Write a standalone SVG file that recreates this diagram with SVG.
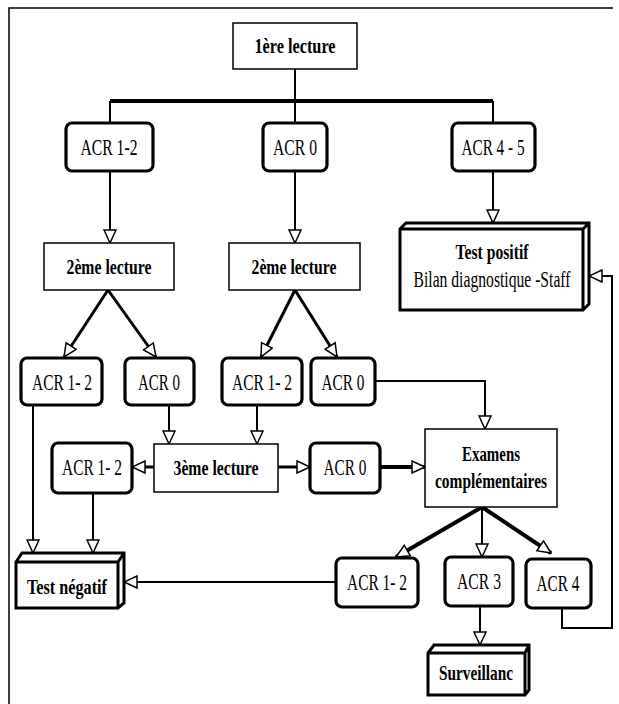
<svg xmlns="http://www.w3.org/2000/svg" width="619" height="704" viewBox="0 0 619 704">
<style>
.frame{fill:none;stroke:#000;stroke-width:1.5}
.box{fill:#fff;stroke:#000;stroke-width:1.5}
.rbox{fill:#fff;stroke:#000;stroke-width:3.2}
.b3d{fill:#fff;stroke:#000;stroke-width:3;stroke-linejoin:miter}
.c{fill:none;stroke:#000;stroke-width:2}
.c3{fill:none;stroke:#000;stroke-width:3}
.c4{fill:none;stroke:#000;stroke-width:4}
text{font-family:"Liberation Serif","Times New Roman",serif;font-size:23px;text-anchor:middle;fill:#000}
.bold{font-weight:bold;font-size:22px}
</style>
<defs>
<marker id="ah" markerUnits="userSpaceOnUse" markerWidth="16" markerHeight="14" viewBox="-1 -1 15 14" refX="13" refY="6" orient="auto">
<path d="M0,0 L13,6 L0,12 Z" fill="#fff" stroke="#000" stroke-width="1.5"/>
</marker>
</defs>
<path class="frame" d="M9,704 V8 H613"/>
<g id="connectors">
<path class="c" d="M295,69 V100"/>
<path class="c4" d="M110,101 H493"/>
<path class="c" d="M110,101 V123 M295,101 V123 M493,101 V123"/>
<path class="c" d="M110,171 V243" marker-end="url(#ah)"/>
<path class="c" d="M295,171 V243" marker-end="url(#ah)"/>
<path class="c" d="M493,171 V223" marker-end="url(#ah)"/>
<path class="c3" d="M108,290 L64,357" marker-end="url(#ah)"/>
<path class="c3" d="M108,290 L156,357" marker-end="url(#ah)"/>
<path class="c3" d="M295,290 L261,357" marker-end="url(#ah)"/>
<path class="c3" d="M295,290 L337,357" marker-end="url(#ah)"/>
<path class="c" d="M33,405 V553" marker-end="url(#ah)"/>
<path class="c" d="M169,405 V444" marker-end="url(#ah)"/>
<path class="c" d="M257,405 V444" marker-end="url(#ah)"/>
<path class="c" d="M375,381 H485 V429" marker-end="url(#ah)"/>
<path class="c3" d="M154,467 H132" marker-end="url(#ah)"/>
<path class="c3" d="M278,467 H310" marker-end="url(#ah)"/>
<path class="c4" d="M380,467 H425" marker-end="url(#ah)"/>
<path class="c" d="M93,493 V553" marker-end="url(#ah)"/>
<path class="c4" d="M482,507 L396,557" marker-end="url(#ah)"/>
<path class="c" d="M482,507 V557" marker-end="url(#ah)"/>
<path class="c4" d="M482,507 L551,553" marker-end="url(#ah)"/>
<path class="c" d="M336,582 H124" marker-end="url(#ah)"/>
<path class="c" d="M480,606 V645" marker-end="url(#ah)"/>
<path class="c" d="M562,608 V628 H612 V276 H589" marker-end="url(#ah)"/>
</g>
<g id="n1">
<rect class="box" x="233" y="23" width="124" height="46"/>
<text class="bold" x="295" y="53" textLength="81" lengthAdjust="spacingAndGlyphs">1ère lecture</text>
</g>
<g id="n2">
<rect class="rbox" x="66" y="123" width="87" height="48" rx="6"/>
<text x="109" y="155" textLength="57" lengthAdjust="spacingAndGlyphs">ACR 1-2</text>
</g>
<g id="n3">
<rect class="rbox" x="263" y="123" width="64" height="48" rx="6"/>
<text x="295" y="155" textLength="44" lengthAdjust="spacingAndGlyphs">ACR 0</text>
</g>
<g id="n4">
<rect class="rbox" x="452" y="123" width="83" height="48" rx="6"/>
<text x="493" y="155" textLength="63" lengthAdjust="spacingAndGlyphs">ACR 4 - 5</text>
</g>
<g id="n5">
<path class="b3d" d="M400,229 L406,223 H589 V304 L583,310 H400 Z M400,229 H583 L589,223 M583,229 V310"/>
<text class="bold" x="492" y="259" textLength="73" lengthAdjust="spacingAndGlyphs">Test positif</text>
<text x="492" y="287" textLength="157" lengthAdjust="spacingAndGlyphs">Bilan diagnostique -Staff</text>
</g>
<g id="n6">
<rect class="box" x="44" y="243" width="130" height="47"/>
<text class="bold" x="109" y="274" textLength="85" lengthAdjust="spacingAndGlyphs">2ème lecture</text>
</g>
<g id="n7">
<rect class="box" x="229" y="243" width="131" height="47"/>
<text class="bold" x="294" y="274" textLength="85" lengthAdjust="spacingAndGlyphs">2ème lecture</text>
</g>
<g id="n8">
<rect class="rbox" x="21" y="358" width="81" height="47" rx="6"/>
<text x="62" y="390" textLength="60" lengthAdjust="spacingAndGlyphs">ACR 1- 2</text>
</g>
<g id="n9">
<rect class="rbox" x="125" y="358" width="69" height="47" rx="6"/>
<text x="159" y="390" textLength="42" lengthAdjust="spacingAndGlyphs">ACR 0</text>
</g>
<g id="n10">
<rect class="rbox" x="222" y="358" width="80" height="47" rx="6"/>
<text x="262" y="390" textLength="60" lengthAdjust="spacingAndGlyphs">ACR 1- 2</text>
</g>
<g id="n11">
<rect class="rbox" x="311" y="358" width="64" height="47" rx="6"/>
<text x="343" y="390" textLength="43" lengthAdjust="spacingAndGlyphs">ACR 0</text>
</g>
<g id="n12">
<rect class="rbox" x="52" y="443" width="80" height="50" rx="6"/>
<text x="92" y="475" textLength="60" lengthAdjust="spacingAndGlyphs">ACR 1- 2</text>
</g>
<g id="n13">
<rect class="box" x="154" y="444" width="124" height="48"/>
<text class="bold" x="216" y="475" textLength="85" lengthAdjust="spacingAndGlyphs">3ème lecture</text>
</g>
<g id="n14">
<rect class="rbox" x="310" y="443" width="70" height="50" rx="6"/>
<text x="345" y="475" textLength="43" lengthAdjust="spacingAndGlyphs">ACR 0</text>
</g>
<g id="n15">
<rect class="box" x="425" y="429" width="132" height="78"/>
<text class="bold" x="491" y="461" textLength="58" lengthAdjust="spacingAndGlyphs">Examens</text>
<text class="bold" x="491" y="488" textLength="112" lengthAdjust="spacingAndGlyphs">complémentaires</text>
</g>
<g id="n16">
<path class="b3d" d="M16,562 L22,553 H124 V603 L118,608 H16 Z M16,562 H118 L124,553 M118,562 V608"/>
<text class="bold" x="67" y="594" textLength="80" lengthAdjust="spacingAndGlyphs">Test négatif</text>
</g>
<g id="n17">
<rect class="rbox" x="336" y="558" width="82" height="49" rx="6"/>
<text x="377" y="590" textLength="60" lengthAdjust="spacingAndGlyphs">ACR 1- 2</text>
</g>
<g id="n18">
<rect class="rbox" x="445" y="557" width="68" height="49" rx="6"/>
<text x="479" y="589" textLength="44" lengthAdjust="spacingAndGlyphs">ACR 3</text>
</g>
<g id="n19">
<rect class="rbox" x="526" y="559" width="65" height="49" rx="6"/>
<text x="558" y="591" textLength="43" lengthAdjust="spacingAndGlyphs">ACR 4</text>
</g>
<g id="n20">
<path class="b3d" d="M428,653 L434,645 H529 V690 L525,695 H428 Z M428,653 H525 L529,645 M525,653 V695"/>
<text class="bold" x="476" y="680" textLength="74" lengthAdjust="spacingAndGlyphs">Surveillanc</text>
</g>
</svg>
